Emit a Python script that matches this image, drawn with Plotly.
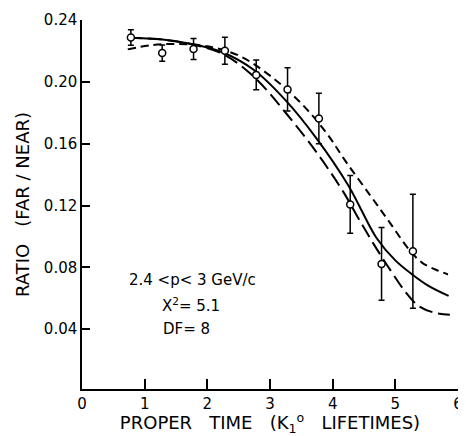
import plotly.graph_objects as go

# measured points
t_pts = [0.78, 1.28, 1.78, 2.28, 2.78, 3.28, 3.78, 4.28, 4.78, 5.28]
ratio_pts = [0.2287, 0.2186, 0.2212, 0.2201, 0.2045, 0.1951, 0.1763, 0.1207, 0.0822, 0.0904]
ratio_err = [0.0050, 0.0053, 0.0068, 0.0088, 0.0097, 0.0140, 0.0163, 0.0187, 0.0235, 0.0368]

# fitted curve (solid)
t_fit = [0.73, 1.25, 1.75, 2.25, 2.75, 3.25, 3.75, 4.25, 4.7, 5.0, 5.27, 5.53, 5.85]
r_fit = [0.2285, 0.2275, 0.2245, 0.2190, 0.2075, 0.1880, 0.1630, 0.1330, 0.0990, 0.0845, 0.0754, 0.0680, 0.0615]

# short-dashed curve
t_up = [0.73, 1.1, 1.5, 2.0, 2.5, 3.0, 3.5, 3.9, 4.2, 4.6, 4.9, 5.22, 5.43, 5.64, 5.84]
r_up = [0.2210, 0.2237, 0.2245, 0.2230, 0.2170, 0.2040, 0.1860, 0.1670, 0.1490, 0.1265, 0.1096, 0.0915, 0.0829, 0.0786, 0.0754]

# long-dashed curve
t_lo = [0.73, 1.25, 1.75, 2.25, 2.75, 3.25, 3.75, 4.17, 4.38, 4.64, 4.93, 5.17, 5.37, 5.61, 5.87]
r_lo = [0.2285, 0.2275, 0.2243, 0.2180, 0.2030, 0.1800, 0.1540, 0.1288, 0.1139, 0.0960, 0.0776, 0.0637, 0.0551, 0.0508, 0.0494]

x_ticks = [0, 1, 2, 3, 4, 5, 6]
y_ticks = [0.04, 0.08, 0.12, 0.16, 0.20, 0.24]
y_labels = ["0.04", "0.08", "0.12", "0.16", "0.20", "0.24"]

FONT = "DejaVu Sans"

fig = go.Figure()
fig.add_trace(go.Scatter(x=t_fit, y=r_fit, mode="lines", line=dict(color="black", width=2, shape="spline"), showlegend=False))
fig.add_trace(go.Scatter(x=t_up, y=r_up, mode="lines", line=dict(color="black", width=2, shape="spline", dash="8px,5px"), showlegend=False))
fig.add_trace(go.Scatter(x=t_lo, y=r_lo, mode="lines", line=dict(color="black", width=2, shape="spline", dash="14px,6px"), showlegend=False))
fig.add_trace(go.Scatter(
    x=t_pts, y=ratio_pts, mode="markers",
    marker=dict(symbol="circle", size=7, color="white", line=dict(color="black", width=1.5)),
    error_y=dict(type="data", array=ratio_err, visible=True, color="black", thickness=1.5, width=3),
    showlegend=False))

# annotation positions in screen pixels of the reference (plot area: x 82..463, y 17..389)
ann = [
    ("2.4 &lt;p&lt; 3 GeV/c", 128, 279),
    ("X<sup>2</sup>= 5.1", 161, 304),
    ("DF= 8", 162, 329),
]
for txt, px, py in ann:
    fig.add_annotation(text=txt, xref="paper", yref="paper",
                       x=(px - 82) / 381, y=(389 - py) / 372,
                       showarrow=False, font=dict(family=FONT, size=15, color="black"),
                       xanchor="left", yanchor="middle")

# page body has an 8px margin, so the figure is drawn 8px smaller
fig.update_layout(
    width=458, height=428,
    margin=dict(l=74, r=3, t=9, b=47),
    paper_bgcolor="white", plot_bgcolor="white",
    font=dict(family=FONT, color="black"),
    xaxis=dict(range=[0, 6], tickvals=x_ticks, ticks="inside", ticklen=10, tickwidth=1.5,
               tickcolor="black", showline=True, linecolor="black", linewidth=1.5,
               showgrid=False, zeroline=False, tickfont=dict(size=15, family=FONT),
               ticklabeloverflow="allow",
               title=dict(text="PROPER\u00a0\u00a0 TIME\u00a0\u00a0 (K<sub>1</sub><sup>o</sup>\u00a0\u00a0 LIFETIMES)",
                          font=dict(size=18, family=FONT), standoff=6)),
    yaxis=dict(range=[0.0013, 0.24], tickvals=y_ticks, ticktext=y_labels, ticks="inside",
               ticklen=8, tickwidth=1.5, tickcolor="black", showline=True, linecolor="black",
               linewidth=1.5, showgrid=False, zeroline=False, tickfont=dict(size=15, family=FONT),
               title=dict(text="RATIO\u00a0\u00a0 (FAR / NEAR)", font=dict(size=18, family=FONT), standoff=10)),
)

fig.write_html("out.html")
